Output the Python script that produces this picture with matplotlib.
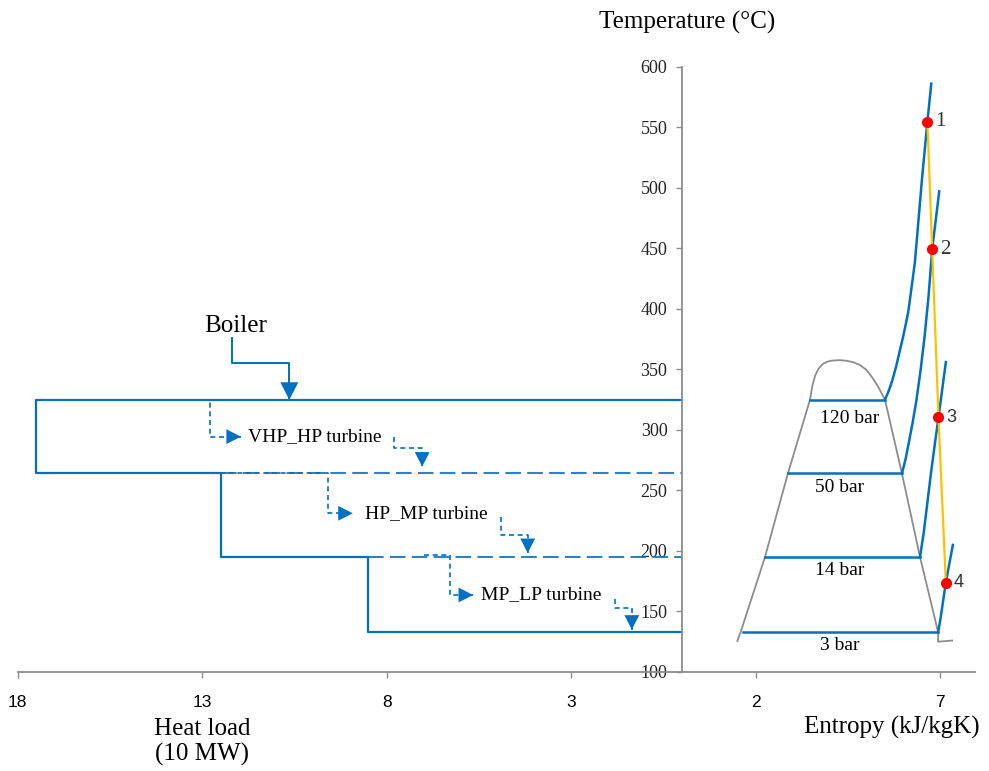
import matplotlib.pyplot as plt

plt.rcParams['font.family'] = ['Liberation Serif', 'DejaVu Serif']
SANS = ['Liberation Sans', 'DejaVu Sans']

BLUE = '#0070C0'
GREY = '#8c8c8c'
ORANGE = '#FFC000'

# ---- heat load side (heat load is drawn to the left of the T axis, x = -load)
load_steps = [17.5, 12.5, 8.5]          # MW/10 at each level change
load_temps = [325, 264, 195, 133]        # degC

# ---- T-s side
dome_s = [1.50, 1.59, 2.25, 2.87, 3.47, 3.53, 3.61, 3.70, 3.81, 3.93, 4.06,
          4.26, 4.46, 4.65, 4.82, 5.00, 5.14, 5.30, 5.41, 5.50, 5.96, 6.45,
          6.94, 6.94, 7.32]
dome_t = [125.6, 133, 195, 264, 325, 336, 345, 350.5, 354.3, 356.3, 357.2,
          357.6, 357.1, 355.8, 353.6, 349.5, 343.9, 336.5, 330.2, 325, 264,
          195, 133, 125, 126]

pressures = ['120 bar', '50 bar', '14 bar', '3 bar']
t_sat = [325, 264, 195, 133]
s_f = [3.47, 2.87, 2.25, 1.65]
s_g = [5.50, 5.96, 6.45, 6.94]
sup_s = [[5.50, 5.60, 5.70, 5.80, 5.90, 6.00, 6.13, 6.31, 6.50, 6.65, 6.755],
         [5.96, 6.06, 6.15, 6.25, 6.35, 6.46, 6.57, 6.68, 6.78, 6.97],
         [6.45, 6.55, 6.65, 6.75, 6.85, 6.95, 7.15],
         [6.94, 7.00, 7.15, 7.34]]
sup_t = [[325, 332, 341, 352, 365, 378, 397, 438, 506, 554.6, 586],
         [264, 276, 290, 306, 324, 348, 376, 410, 449, 497],
         [195, 215, 240, 265, 288, 310, 356],
         [133, 143, 174, 205]]
label_s = [4.55, 4.28, 4.28, 4.28]
label_t = [309, 252, 184, 121.5]

state_names = ['1', '2', '3', '4']
state_s = [6.65, 6.78, 6.95, 7.15]
state_t = [554.6, 449.2, 310.4, 173.8]

# ---- turbine arrows (x in heat-load axis coordinates, negative to the left)
turbines = ['VHP_HP turbine', 'HP_MP turbine', 'MP_LP turbine']
turb_in_x = [[-13.66, -12.80, -12.80, -11.95],
             [-12.52, -9.59, -9.59, -8.92],
             [-6.99, -6.29, -6.29, -5.66]]
turb_in_t = [[325, 325, 294.4, 294.4],
             [264, 264, 231.1, 231.1],
             [196.8, 196.8, 163.6, 163.6]]
turb_text_x = [-11.76, -8.59, -5.45]
turb_out_x = [[-7.81, -7.81, -7.04, -7.04],
              [-4.91, -4.91, -4.18, -4.18],
              [-1.81, -1.81, -1.36, -1.36]]
turb_out_t = [[293.9, 284.8, 284.8, 269.6],
              [228.3, 213.2, 213.2, 198.2],
              [160.1, 152.6, 152.6, 134.9]]
boiler_x = [-12.18, -12.18, -10.64, -10.64]
boiler_t = [375.6, 355, 355, 324.7]

tick_pos = [-18, -13, -8, -3, 2, 7]
tick_lab = ['18', '13', '8', '3', '2', '7']

fig = plt.figure(figsize=(9.89, 7.71), dpi=100)
ax = fig.add_axes([17.7 / 989, 99 / 771, 957.3 / 989, 605.3 / 771])
ax.set_xlim(-18, 7.94)
ax.set_ylim(100, 600)

# heat load composite curve
hx = [0, -load_steps[0], -load_steps[0], -load_steps[1], -load_steps[1],
      -load_steps[2], -load_steps[2], 0]
ht = [load_temps[0], load_temps[0], load_temps[1], load_temps[1],
      load_temps[2], load_temps[2], load_temps[3], load_temps[3]]
ax.plot(hx, ht, color=BLUE, lw=1.6)
ax.plot([-load_steps[1], 0], [load_temps[1]] * 2, color=BLUE, lw=1.5,
        dashes=(7.5, 3), alpha=0.85)
ax.plot([-load_steps[2], 0], [load_temps[2]] * 2, color=BLUE, lw=1.5,
        dashes=(7.5, 3), alpha=0.85)

head = dict(arrowstyle='-|>,head_length=0.75,head_width=0.38', lw=0,
            color=BLUE, shrinkA=0, shrinkB=0, mutation_scale=14)

for name, ix, it, tx, ox, ot in zip(turbines, turb_in_x, turb_in_t,
                                    turb_text_x, turb_out_x, turb_out_t):
    ax.plot(ix, it, color=BLUE, lw=1.2, dashes=(3, 2.2))
    ax.annotate('', xy=(ix[-1], it[-1]), xytext=(ix[-2], it[-2]), arrowprops=head)
    ax.text(tx, it[-1], name, fontsize=14, va='center', ha='left')
    ax.plot(ox, ot, color=BLUE, lw=1.2, dashes=(3, 2.2))
    ax.annotate('', xy=(ox[-1], ot[-1]), xytext=(ox[-2], ot[-2]), arrowprops=head)

ax.plot(boiler_x, boiler_t, color=BLUE, lw=1.4)
ax.annotate('', xy=(boiler_x[-1], boiler_t[-1]), xytext=(boiler_x[-2], boiler_t[-2]),
            arrowprops=dict(head, mutation_scale=17))
ax.text(-12.1, 385.8, 'Boiler', fontsize=18, ha='center', va='center')

# T-s diagram
ax.plot(dome_s, dome_t, color=GREY, lw=1.3)
for p, t, sf, sg, ss, st, lx, ly in zip(pressures, t_sat, s_f, s_g, sup_s,
                                          sup_t, label_s, label_t):
    ax.plot([sf, sg], [t, t], color=BLUE, lw=1.8)
    ax.plot(ss, st, color=BLUE, lw=1.8)
    ax.text(lx, ly, p, fontsize=14, ha='center', va='center')

ax.plot(state_s, state_t, color=ORANGE, lw=1.6, zorder=4)
ax.plot(state_s, state_t, 'o', color='#FF0000', ms=7, zorder=5)
for i, (n, s, t) in enumerate(zip(state_names, state_s, state_t)):
    if i < 2:
        ax.text(s + 0.22, t, n, fontsize=15, va='center', ha='left',
                color='#333333')
    else:
        ax.text(s + 0.2, t, n, fontsize=13, va='center', ha='left',
                family=SANS, color='#333333')

# axes styling
for side in ['top', 'right']:
    ax.spines[side].set_visible(False)
ax.spines['left'].set_position(('data', 0))
for side in ['left', 'bottom']:
    ax.spines[side].set_color(GREY)
    ax.spines[side].set_linewidth(1.3)

ax.set_yticks(range(100, 601, 50))
ax.set_xticks(tick_pos)
ax.set_xticklabels(tick_lab)
ax.tick_params(axis='x', direction='out', length=4.5, width=1, colors=GREY,
               labelcolor='black', labelsize=12.5, pad=12)
ax.tick_params(axis='y', direction='out', length=4.5, width=1, colors=GREY,
               labelcolor='#222222', labelsize=13, pad=6)
for lab in ax.get_xticklabels():
    lab.set_family(SANS)

fig.text(687 / 989, 1 - 22 / 771, 'Temperature (°C)', fontsize=18,
         ha='center', va='center')
fig.text(892 / 989, 1 - 727 / 771, 'Entropy (kJ/kgK)', fontsize=18,
         ha='center', va='center')
fig.text(202 / 989, 1 - 742 / 771, 'Heat load\n(10 MW)', fontsize=18,
         ha='center', va='center', linespacing=1.15)

fig.savefig('out.png', dpi=100)
